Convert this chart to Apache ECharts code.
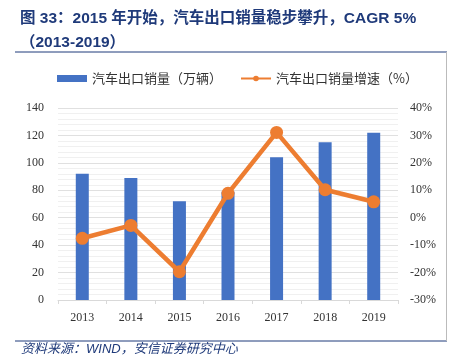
<!DOCTYPE html>
<html><head><meta charset="utf-8">
<script src="https://cdn.jsdelivr.net/npm/echarts@6/dist/echarts.min.js"></script>
<style>html,body{margin:0;padding:0;background:#fff}#c{width:450px;height:356px}</style>
</head><body><div id="c"></div>
<script>
const categories = ['2013','2014','2015','2016','2017','2018','2019'];
const exportVolume = [92, 89, 72, 79, 104, 115, 122];
const exportGrowth = [-7.5, -2.8, -19.7, 8.9, 31.1, 10.2, 5.8];
const leftTicks = {min: 0, max: 140, interval: 20};
const rightTicks = {min: -30, max: 40, interval: 10};

const chart = echarts.init(document.getElementById('c'));
const navy = '#1F3A7A';
chart.setOption({
  animation: false,
  title: [{
    text: '图 33：2015 年开始，汽车出口销量稳步攀升，CAGR 5%\n（2013-2019）',
    left: 15, top: 2,
    textStyle: {fontSize: 15.5, fontWeight: 'bold', color: navy, lineHeight: 24, fontFamily: 'Arial, "Noto Sans CJK SC", sans-serif'}
  }, {
    text: '资料来源：WIND，安信证券研究中心',
    left: 16, top: 338,
    textStyle: {fontSize: 13, fontWeight: 'normal', fontStyle: 'italic', color: navy, fontFamily: 'Arial, "Noto Sans CJK SC", sans-serif'}
  }],
  graphic: [
    {type: 'line', shape: {x1: 15, y1: 52, x2: 447, y2: 52}, style: {stroke: navy, lineWidth: 1}},
    {type: 'line', shape: {x1: 15, y1: 341, x2: 447, y2: 341}, style: {stroke: navy, lineWidth: 1}},
    {type: 'line', shape: {x1: 446.5, y1: 52, x2: 446.5, y2: 341}, style: {stroke: '#bbb', lineWidth: 1}}
  ],
  legend: {
    top: 67, left: 52, itemGap: 18, itemWidth: 30, itemHeight: 7,
    textStyle: {fontSize: 13, color: '#333', fontFamily: '"Noto Sans CJK SC", sans-serif'},
    data: [
      {name: '汽车出口销量（万辆）', icon: 'rect'},
      {name: '汽车出口销量增速（%）'}
    ]
  },
  grid: {left: 58, right: 52, top: 108, bottom: 56},
  xAxis: {
    type: 'category', data: categories,
    axisLine: {lineStyle: {color: '#d9d9d9'}},
    axisTick: {show: true, length: 4, lineStyle: {color: '#d9d9d9'}},
    axisLabel: {color: '#333', fontSize: 12, fontFamily: '"Liberation Serif", serif', margin: 12}
  },
  yAxis: [{
    type: 'value', min: leftTicks.min, max: leftTicks.max, interval: leftTicks.interval,
    axisLine: {show: false}, axisTick: {show: false},
    axisLabel: {color: '#333', fontSize: 12, fontFamily: '"Liberation Serif", serif', margin: 14},
    splitLine: {lineStyle: {color: '#e0e0e0'}},
    minorTick: {show: false, splitNumber: 5},
    minorSplitLine: {show: true, lineStyle: {color: '#f0f0f0'}}
  }, {
    type: 'value', min: rightTicks.min, max: rightTicks.max, interval: rightTicks.interval,
    axisLine: {show: false}, axisTick: {show: false}, splitLine: {show: false},
    axisLabel: {color: '#333', fontSize: 12, fontFamily: '"Liberation Serif", serif', formatter: '{value}%', margin: 12}
  }],
  series: [{
    name: '汽车出口销量（万辆）', type: 'bar', data: exportVolume, barWidth: 13,
    itemStyle: {color: '#4472C4'}
  }, {
    name: '汽车出口销量增速（%）', type: 'line', yAxisIndex: 1, data: exportGrowth,
    symbol: 'circle', symbolSize: 13,
    lineStyle: {color: '#ED7D31', width: 4.5},
    itemStyle: {color: '#ED7D31'}
  }]
});
</script></body></html>
